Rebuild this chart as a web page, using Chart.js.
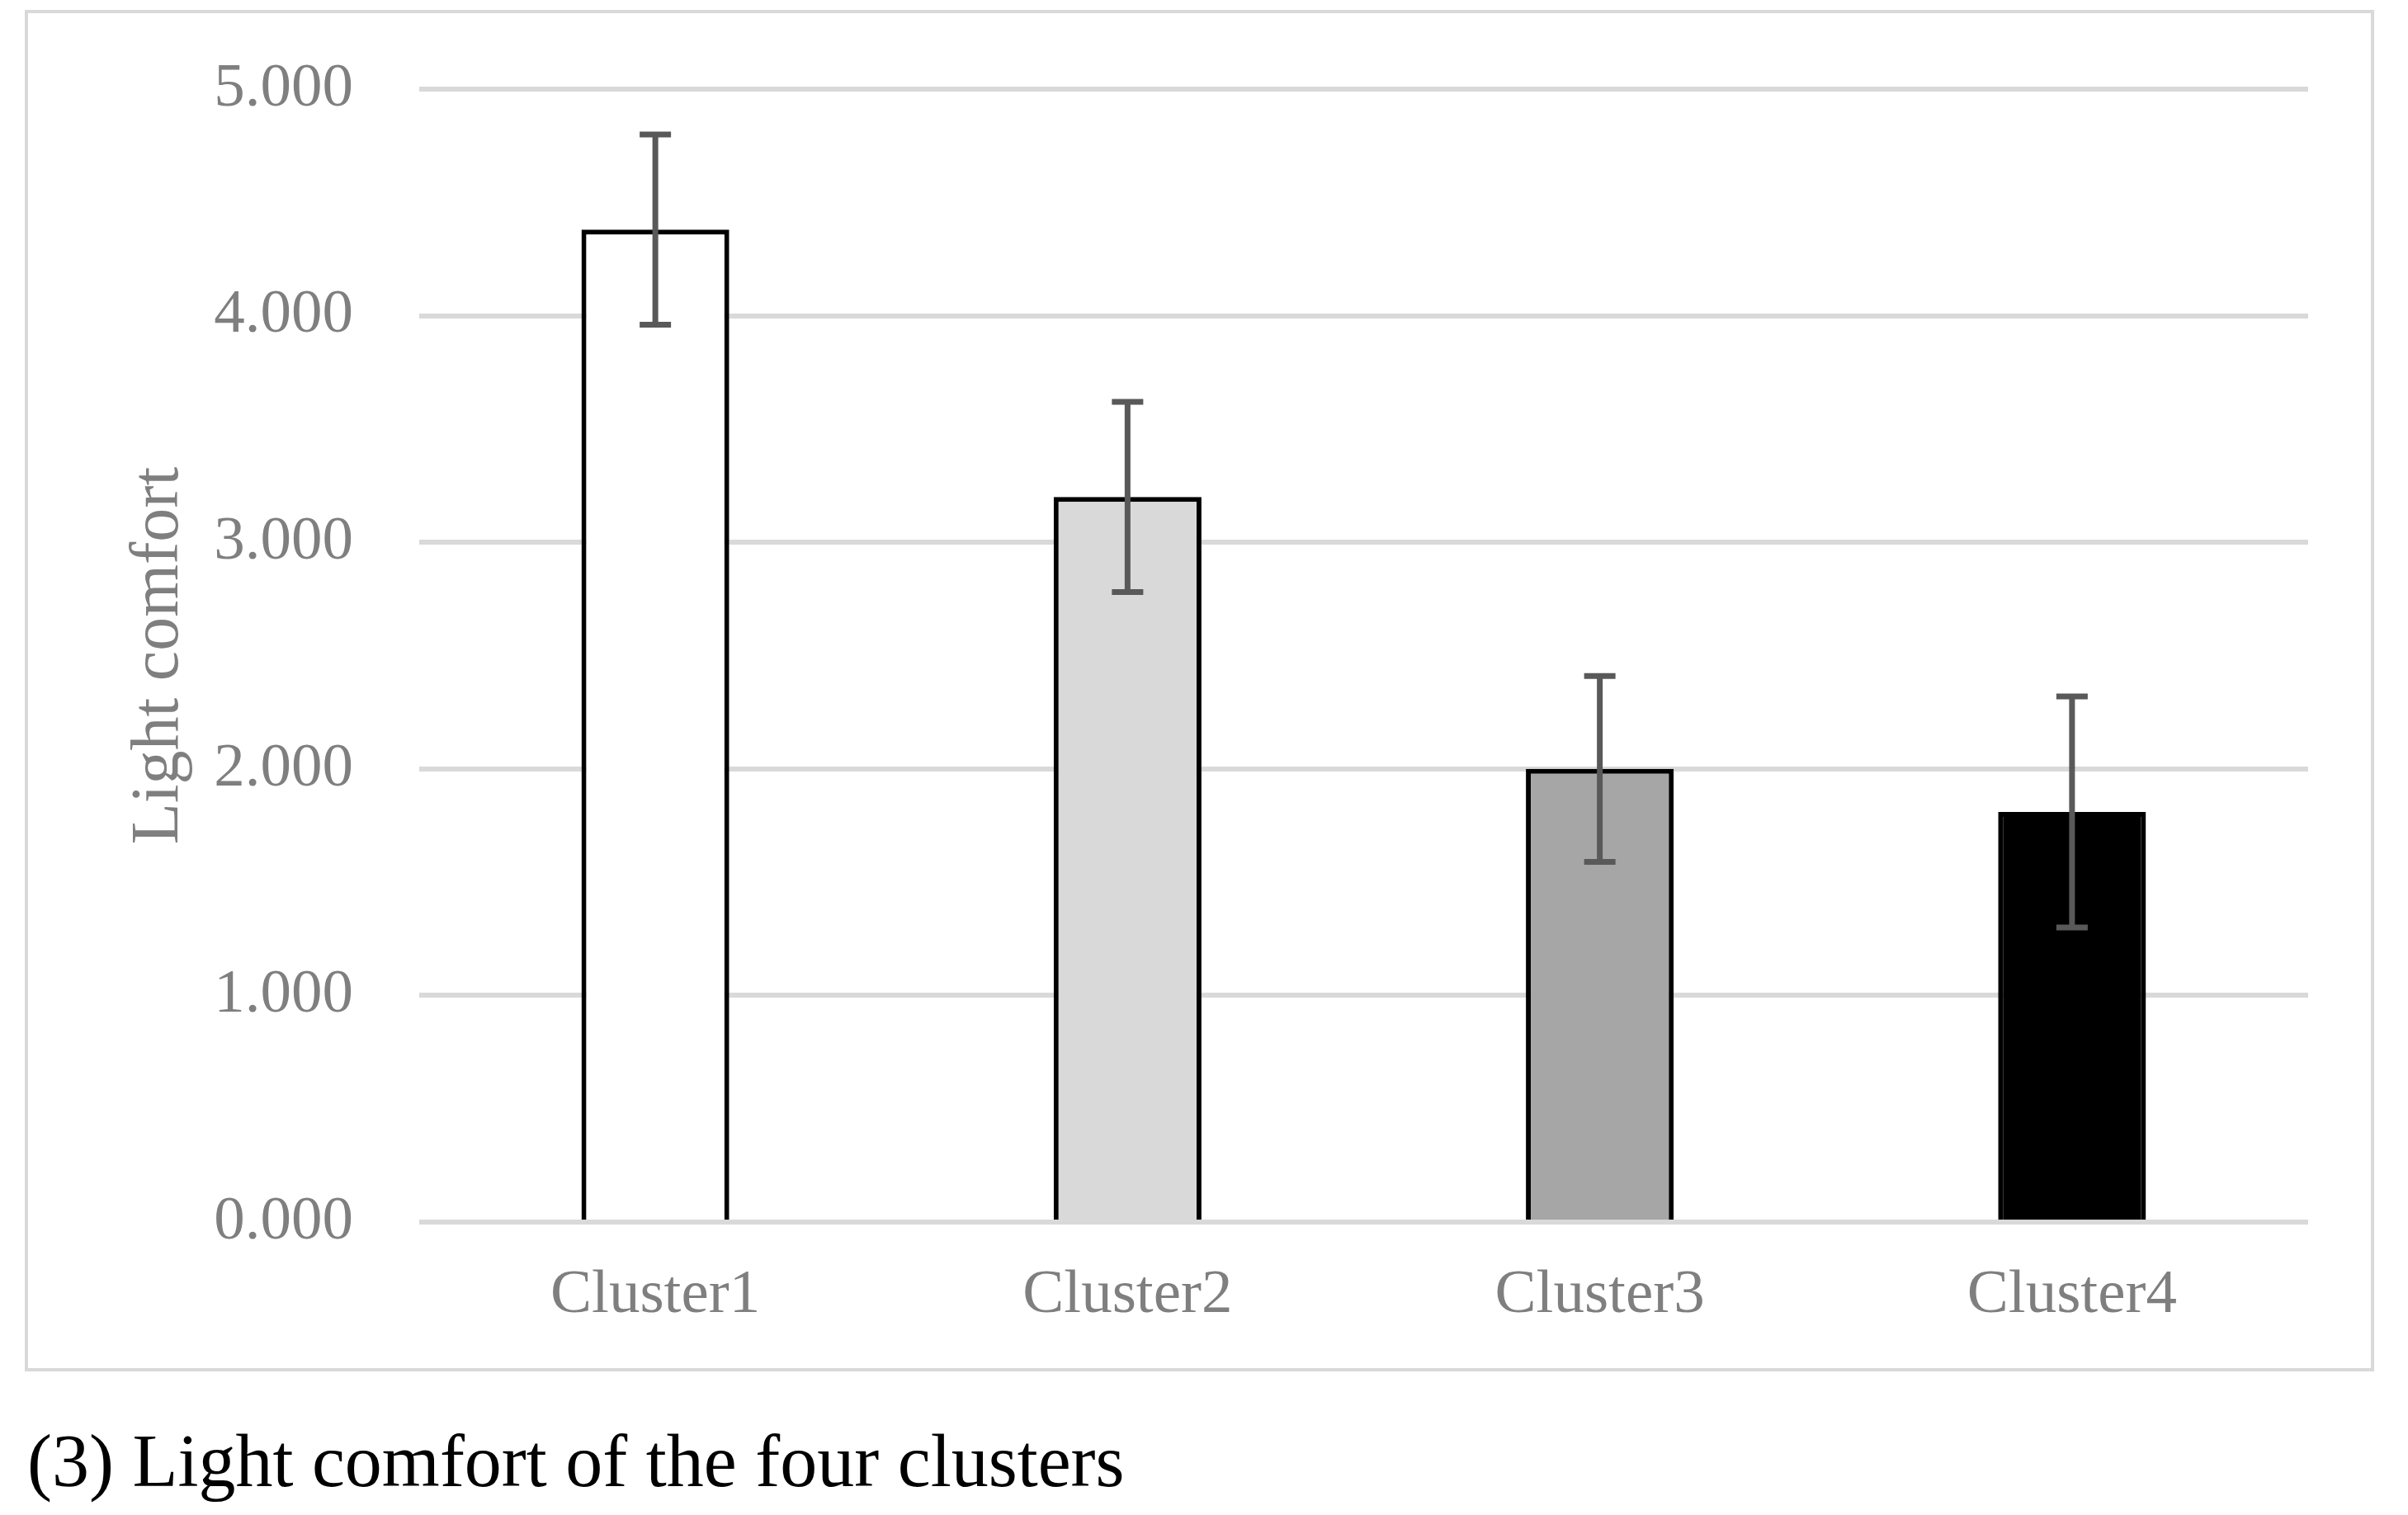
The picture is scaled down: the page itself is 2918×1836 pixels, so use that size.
<!DOCTYPE html>
<html>
<head>
<meta charset="utf-8">
<script src="https://cdn.jsdelivr.net/npm/chart.js"></script>
<style>
    body { margin: 0; background: #fff; width: 2918px; height: 1836px; overflow: hidden; position: relative; }
    #frame {
        position: absolute; left: 30px; top: 12px; width: 2847px; height: 1650px;
        border: 4px solid #d9d9d9; box-sizing: border-box;
    }
    #frame canvas { display: block; }
    #caption {
        position: absolute; left: 33px; top: 1721px;
        font: 90px/100px "Liberation Serif", serif; color: #000; white-space: nowrap;
    }
</style>
</head>
<body>
<div id="frame"><canvas id="lightChart" width="2839" height="1642"></canvas></div>
<div id="caption">(3) Light comfort of the four clusters</div>

<script>
// ========== DATA ==========
const clusters = ['Cluster1', 'Cluster2', 'Cluster3', 'Cluster4'];
const lightComfort = [4.38, 3.20, 2.00, 1.81];
const errorMargins = [0.42, 0.42, 0.41, 0.51];
const barColors = ['#ffffff', '#d9d9d9', '#a6a6a6', '#000000'];
const yTicks = [0, 1, 2, 3, 4, 5];

// ========== ERROR BARS ==========
const errorBarPlugin = {
    id: 'errorBars',
    afterDatasetsDraw(chart) {
        const ctx = chart.ctx;
        const yScale = chart.scales.y;
        const meta = chart.getDatasetMeta(0);
        ctx.save();
        ctx.strokeStyle = '#595959';
        ctx.lineWidth = 7;
        meta.data.forEach((bar, i) => {
            const top = yScale.getPixelForValue(lightComfort[i] + errorMargins[i]);
            const bottom = yScale.getPixelForValue(lightComfort[i] - errorMargins[i]);
            const x = bar.x;
            const cap = 19;
            ctx.beginPath();
            ctx.moveTo(x, top);
            ctx.lineTo(x, bottom);
            ctx.moveTo(x - cap, top);
            ctx.lineTo(x + cap, top);
            ctx.moveTo(x - cap, bottom);
            ctx.lineTo(x + cap, bottom);
            ctx.stroke();
        });
        ctx.restore();
    }
};

Chart.defaults.font.family = '"Liberation Serif", serif';

const ctx = document.getElementById('lightChart').getContext('2d');
new Chart(ctx, {
    type: 'bar',
    data: {
        labels: clusters,
        datasets: [{
            label: 'Light comfort',
            data: lightComfort,
            backgroundColor: barColors,
            borderColor: '#000000',
            borderWidth: 6,
            categoryPercentage: 1,
            barPercentage: 0.313
        }]
    },
    options: {
        responsive: false,
        animation: false,
        layout: { autoPadding: false, padding: { top: 92, right: 76, left: 0, bottom: 0 } },
        plugins: {
            legend: { display: false },
            tooltip: { enabled: false }
        },
        scales: {
            x: {
                grid: { display: false, drawTicks: false },
                border: { display: false },
                ticks: { color: '#7f7f7f', font: { size: 75 }, padding: 44 },
                afterFit: scale => {
                    scale.height = 177;
                    scale.paddingLeft = 0;
                    scale.paddingRight = 0;
                }
            },
            y: {
                min: 0,
                max: 5,
                afterBuildTicks: scale => { scale.ticks = yTicks.map(v => ({ value: v })); },
                grid: { color: '#d9d9d9', lineWidth: 6, drawTicks: false },
                border: { display: false },
                ticks: {
                    color: '#7f7f7f',
                    font: { size: 75 },
                    padding: 80,
                    callback: v => v.toFixed(3)
                },
                title: {
                    display: true,
                    text: 'Light comfort',
                    color: '#7f7f7f',
                    font: { size: 82 },
                    padding: { top: 110, bottom: 0 }
                },
                afterFit: scale => {
                    scale.width = 474;
                    scale.paddingTop = 0;
                    scale.paddingBottom = 0;
                }
            }
        }
    },
    plugins: [errorBarPlugin]
});
</script>
</body>
</html>
